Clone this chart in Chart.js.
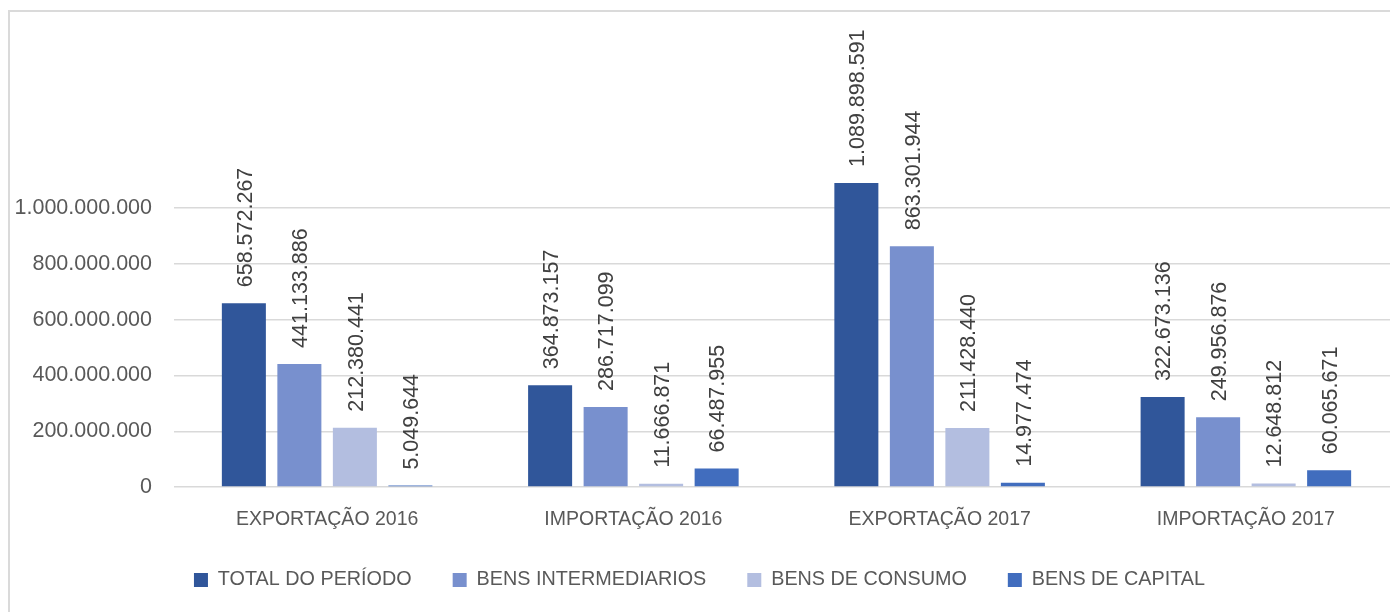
<!DOCTYPE html>
<html><head><meta charset="utf-8">
<script src="https://cdn.jsdelivr.net/npm/chart.js@4.4.0/dist/chart.umd.min.js"></script>
<style>
html,body{margin:0;padding:0;background:#fff;overflow:hidden;width:1390px;height:612px;}
#wrap{position:absolute;left:0;top:0;width:1410px;height:612px;}
#frame{position:absolute;left:8px;top:10px;width:1500px;height:700px;border:2px solid #DADADA;box-sizing:border-box;pointer-events:none;}
canvas{position:absolute;left:0;top:0;}
</style></head><body>
<div id="wrap"><canvas id="c" width="1410" height="612"></canvas></div>
<div id="frame"></div>
<script>
const categories = ['EXPORTAÇÃO 2016', 'IMPORTAÇÃO 2016', 'EXPORTAÇÃO 2017', 'IMPORTAÇÃO 2017'];
const seriesNames = ['TOTAL DO PERÍODO', 'BENS INTERMEDIARIOS', 'BENS DE CONSUMO', 'BENS DE CAPITAL'];
const totalPeriodo = [658572267, 364873157, 1089898591, 322673136];
const bensIntermediarios = [441133886, 286717099, 863301944, 249956876];
const bensConsumo = [212380441, 11666871, 211428440, 12648812];
const bensCapital = [5049644, 66487955, 14977474, 60065671];
const yTickValues = [0, 200000000, 400000000, 600000000, 800000000, 1000000000];
const seriesColors = ['#30569A', '#7890CE', '#B3BEE0', '#416DBE'];

const FONT = '"Liberation Sans", Arial, sans-serif';
const fmt = v => String(Math.round(v)).replace(/\B(?=(\d{3})+(?!\d))/g, '.');

const barLabels = {
  id: 'barLabels',
  afterDatasetsDraw(chart) {
    const ctx = chart.ctx;
    const fs = 21.5;
    ctx.save();
    ctx.font = fs + 'px ' + FONT;
    ctx.fillStyle = '#404040';
    chart.data.datasets.forEach((ds, i) => {
      const meta = chart.getDatasetMeta(i);
      meta.data.forEach((bar, j) => {
        ctx.save();
        ctx.translate(bar.x, bar.y - 16);
        ctx.rotate(-Math.PI / 2);
        ctx.textAlign = 'left';
        ctx.textBaseline = 'alphabetic';
        ctx.fillText(fmt(ds.data[j]), 0, fs * 0.358);
        ctx.restore();
      });
    });
    ctx.restore();
  }
};

const LEGEND_SHIFT = 8;
const legendShift = {
  id: 'legendShift',
  afterLayout(chart) {
    if (chart.legend) {
      chart.legend.top -= LEGEND_SHIFT;
      chart.legend.bottom -= LEGEND_SHIFT;
    }
  }
};

const seriesData = [totalPeriodo, bensIntermediarios, bensConsumo, bensCapital];
const chart = new Chart(document.getElementById('c'), {
  type: 'bar',
  data: {
    labels: categories,
    datasets: seriesNames.map((n, i) => ({
      label: n,
      data: seriesData[i],
      backgroundColor: seriesColors[i],
      borderWidth: 0,
      categoryPercentage: 0.725,
      barPercentage: 0.793
    }))
  },
  options: {
    responsive: false,
    animation: false,
    layout: { padding: { top: 0, right: 11, left: 0, bottom: 0 } },
    plugins: {
      legend: {
        position: 'bottom',
        labels: { boxWidth: 14, boxHeight: 14, padding: 41, color: '#595959', font: { family: FONT, size: 19.8 } }
      },
      tooltip: { enabled: false }
    },
    scales: {
      x: {
        grid: { display: false, drawTicks: false },
        border: { display: false },
        ticks: { color: '#595959', font: { family: FONT, size: 19.5 }, padding: 21, maxRotation: 0 },
        afterFit(s) { s.height = 50; }
      },
      y: {
        min: 0,
        max: 1650000000,
        afterBuildTicks(s) { s.ticks = yTickValues.map(v => ({ value: v })); },
        ticks: { color: '#595959', font: { family: FONT, size: 21.5 }, padding: 22, callback: v => fmt(v) },
        grid: { color: '#D9D9D9', lineWidth: 1.4, drawTicks: false },
        border: { display: false },
        afterFit(s) { s.width = 174; }
      }
    }
  },
  plugins: [barLabels, legendShift]
});
// place 0 at y=487 and 1.000.000.000 at y=208 (as in the reference)
for (let k = 0; k < 5; k++) {
  const y = chart.scales.y;
  const e0 = y.getPixelForValue(0) - 487;
  chart.options.layout.padding.bottom += e0;
  chart.options.scales.y.max = (487 - y.top) / (487 - 208) * 1000000000;
  chart.update();
}
</script>
</body></html>
